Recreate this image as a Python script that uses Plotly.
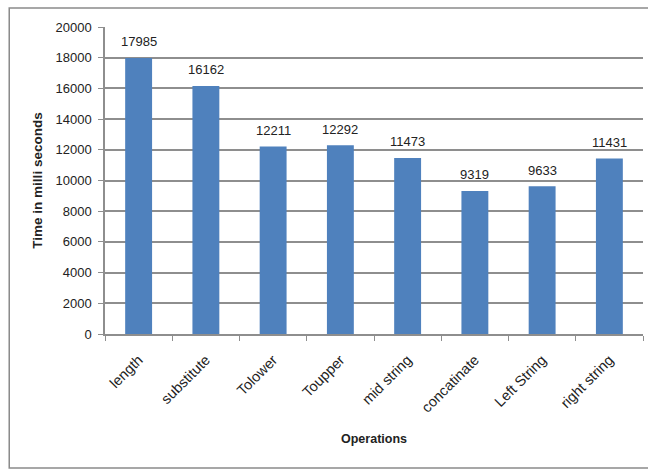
import plotly.graph_objects as go

operations = ["length", "substitute", "Tolower", "Toupper", "mid string",
              "concatinate", "Left String", "right string"]
times_ms = [17985, 16162, 12211, 12292, 11473, 9319, 9633, 11431]
y_ticks = [0, 2000, 4000, 6000, 8000, 10000, 12000, 14000, 16000, 18000, 20000]

FONT = "Liberation Sans, Arial, sans-serif"
GRID = "#8e8e8e"
TEXT = "#222222"

fig = go.Figure(
    go.Bar(
        x=operations,
        y=times_ms,
        marker=dict(color="#4f81bd", line=dict(width=0)),
        cliponaxis=False,
        width=0.4,
    )
)

# value labels sitting above each bar
for op, v in zip(operations, times_ms):
    fig.add_annotation(
        x=op, y=v, text=str(v), showarrow=False,
        yanchor="middle", yshift=16,
        font=dict(family=FONT, size=13, color=TEXT),
    )

fig.update_layout(
    width=648,
    height=470,
    margin=dict(l=105, r=5, t=27, b=136),
    paper_bgcolor="white",
    plot_bgcolor="white",
    showlegend=False,
    font=dict(family=FONT, size=13, color=TEXT),
    xaxis=dict(
        type="category",
        tickangle=-45,
        showgrid=False,
        showline=True,
        linecolor=GRID,
        linewidth=1.5,
        ticks="outside",
        ticklen=5,
        tickcolor=GRID,
        tickson="boundaries",
        ticklabelstandoff=10,
        tickfont=dict(family=FONT, size=14.5, color=TEXT),
        title=dict(text="<b>Operations</b>", font=dict(family=FONT, size=12.5, color=TEXT), standoff=20),
    ),
    yaxis=dict(
        range=[0, 20000],
        tickvals=y_ticks,
        ticktext=[str(v) for v in y_ticks],
        showgrid=True,
        gridcolor=GRID,
        gridwidth=1.5,
        showline=True,
        linecolor=GRID,
        linewidth=1.5,
        ticks="outside",
        ticklen=5,
        tickcolor=GRID,
        ticklabelstandoff=4,
        tickfont=dict(family=FONT, size=13, color=TEXT),
        zeroline=False,
        title=dict(text="<b>Time in milli seconds</b>", font=dict(family=FONT, size=13.5, color=TEXT), standoff=10),
    ),
    shapes=[
        dict(type="rect", xref="paper", yref="paper",
             x0=-0.178, x1=1.3, y0=-0.4365, y1=1.0619,
             line=dict(color="#8a8a8a", width=1.5), fillcolor="rgba(0,0,0,0)", layer="below"),
    ],
)

fig.write_html("out.html")
